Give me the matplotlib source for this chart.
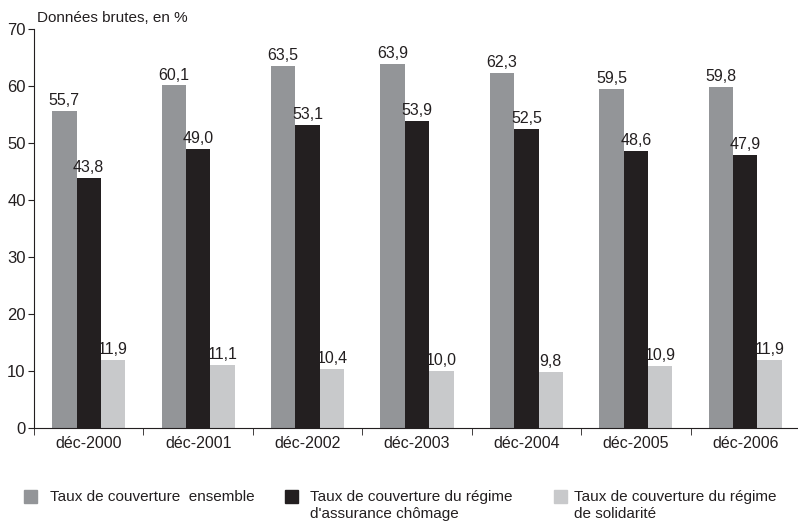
import matplotlib
matplotlib.use('Agg')
import matplotlib.pyplot as plt
from matplotlib.patches import Rectangle
import numpy as np

plt.rcParams['font.family'] = ['Liberation Sans', 'DejaVu Sans']

periods = ['déc-2000', 'déc-2001', 'déc-2002', 'déc-2003', 'déc-2004', 'déc-2005', 'déc-2006']
ensemble = [55.7, 60.1, 63.5, 63.9, 62.3, 59.5, 59.8]
assurance = [43.8, 49.0, 53.1, 53.9, 52.5, 48.6, 47.9]
solidarite = [11.9, 11.1, 10.4, 10.0, 9.8, 10.9, 11.9]

series = [
    (ensemble, '#939598', 'Taux de couverture  ensemble'),
    (assurance, '#231f20', "Taux de couverture du régime\nd'assurance chômage"),
    (solidarite, '#c8c9cb', 'Taux de couverture du régime\nde solidarité'),
]
W, H = 798, 523
fig = plt.figure(figsize=(W / 100, H / 100), dpi=100)
ax = fig.add_axes([34 / W, 95 / H, 766 / W, 399 / H])

x = np.arange(len(periods))
width = 0.223
for i, (vals, color, label) in enumerate(series):
    pos = x + (i - 1) * width
    ax.bar(pos, vals, width, color=color, label=label)
    for p, v in zip(pos, vals):
        ax.text(p, v + 0.5, ('%.1f' % v).replace('.', ','), ha='center', va='bottom',
                fontsize=11.5, color='#231f20')

ax.set_xlim(-0.5, len(periods) - 0.5)
ax.set_ylim(0, 70)
ax.set_yticks(range(0, 71, 10))
ax.tick_params(axis='y', labelsize=12, length=4, colors='#231f20', pad=2)
ax.set_xticks(x)
ax.set_xticklabels(periods, fontsize=11.5, color='#231f20')
ax.tick_params(axis='x', length=0, pad=6)
ax.set_xticks(np.arange(-0.5, len(periods)), minor=True)
ax.tick_params(axis='x', which='minor', length=5, color='#231f20')

for s in ['top', 'right']:
    ax.spines[s].set_visible(False)
for s in ['left', 'bottom']:
    ax.spines[s].set_color('#231f20')

fig.text(37 / W, 1 - 18 / H, 'Données brutes, en %', fontsize=11, va='center', color='#231f20')

# legend drawn by hand: square + text, positions in pixels
legend_pos = [(24, 50), (285, 310), (554, 574)]
for (sx, tx), (vals, color, label) in zip(legend_pos, series):
    fig.patches.append(Rectangle((sx / W, 1 - 503 / H), 13 / W, 13 / H, color=color,
                                 transform=fig.transFigure, figure=fig))
    fig.text(tx / W, 1 - 490 / H, label, fontsize=11, va='top', ha='left',
             color='#231f20', linespacing=1.3)

fig.savefig('out.png', dpi=100)
